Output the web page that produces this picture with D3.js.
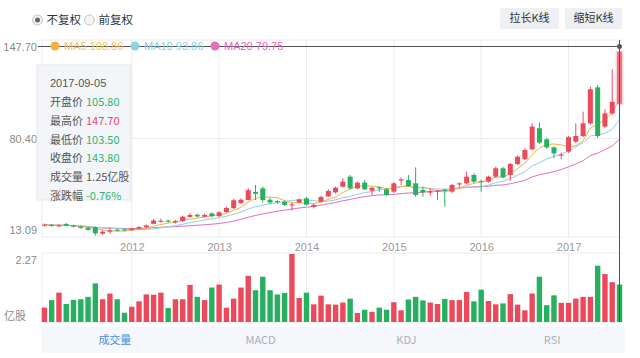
<!DOCTYPE html>
<html><head><meta charset="utf-8">
<script src="https://cdn.jsdelivr.net/npm/d3@7"></script>
<style>
body{margin:0;background:#fff;}
svg{display:block;font-family:"Noto Sans CJK SC","Liberation Sans",sans-serif;}
</style></head><body>
<svg id="c" width="640" height="358"></svg>
<script>
// ---------- data ----------
const categories = ("2011-01 2011-02 2011-03 2011-04 2011-05 2011-06 2011-07 2011-08 2011-09 2011-10 2011-11 2011-12 " +
 "2012-01 2012-02 2012-03 2012-04 2012-05 2012-06 2012-07 2012-08 2012-09 2012-10 2012-11 2012-12 " +
 "2013-01 2013-02 2013-03 2013-04 2013-05 2013-06 2013-07 2013-08 2013-09 2013-10 2013-11 2013-12 " +
 "2014-01 2014-02 2014-03 2014-04 2014-05 2014-06 2014-07 2014-08 2014-09 2014-10 2014-11 2014-12 " +
 "2015-01 2015-02 2015-03 2015-04 2015-05 2015-06 2015-07 2015-08 2015-09 2015-10 2015-11 2015-12 " +
 "2016-01 2016-02 2016-03 2016-04 2016-05 2016-06 2016-07 2016-08 2016-09 2016-10 2016-11 2016-12 " +
 "2017-01 2017-02 2017-03 2017-04 2017-05 2017-06 2017-07 2017-08").split(" ");

const openP = [16.6,17.3,16.2,17.8,16.8,16.0,15.2,15.6,10.8,12.2,13.6,13.8,
 13.4,14.4,15.5,18.0,19.4,20.4,19.0,19.9,23.0,24.6,23.2,25.6,
 23.6,26.6,29.4,33.2,35.4,41.3,43.9,35.6,34.6,34.0,31.8,33.6,
 36.6,30.4,34.2,38.0,41.0,45.1,52.5,43.9,48.1,42.2,44.6,43.2,
 41.5,49.6,50.0,47.6,42.7,40.8,41.8,43.0,41.5,46.8,47.6,53.7,
 49.2,48.8,52.5,58.6,53.7,61.7,65.2,72.5,87.9,79.8,73.9,67.8,
 70.8,78.1,82.2,91.5,117.8,89.1,98.8,105.8];
const highP = [18.2,17.9,17.6,18.6,17.3,16.5,15.7,16.0,13.3,15.2,14.6,14.5,
 15.2,16.3,17.4,21.4,21.8,21.0,20.8,24.0,25.8,25.4,25.5,26.3,
 27.2,30.4,36.2,36.6,44.0,46.4,45.2,36.8,35.6,35.0,33.5,36.6,
 37.6,32.8,38.6,43.2,45.2,51.3,53.7,48.8,50.0,45.1,45.6,44.0,
 48.5,52.0,53.7,59.3,45.1,44.0,42.8,43.6,47.2,48.3,56.1,54.9,
 50.5,53.2,59.8,59.6,62.5,68.0,73.2,91.5,92.0,80.8,74.6,70.0,
 82.2,91.5,100.0,118.3,119.5,101.7,131.0,147.7];
const lowP = [16.0,15.8,15.6,16.0,15.3,14.4,13.0,9.4,10.0,10.8,12.4,12.8,
 13.0,14.0,15.0,17.5,18.8,18.9,18.2,19.3,22.4,22.6,22.6,22.8,
 23.0,26.0,28.8,32.4,35.0,35.4,33.6,32.4,32.6,31.0,27.6,33.0,
 31.4,29.2,33.6,37.6,40.0,44.4,43.2,43.2,42.7,39.1,41.5,38.5,
 40.6,46.4,45.0,37.8,37.8,38.5,35.4,30.5,40.3,44.6,46.8,47.8,
 41.5,48.0,51.6,51.3,49.5,61.0,64.6,71.8,76.5,72.8,65.9,65.2,
 69.8,77.2,81.3,90.4,80.8,87.9,97.5,103.5];
const closeP = [17.4,16.5,16.9,16.6,15.9,15.0,13.6,11.0,12.2,13.2,13.2,13.4,
 14.4,15.6,16.8,20.4,20.2,19.6,20.0,23.2,24.4,23.4,24.4,23.6,
 26.4,29.6,35.2,35.6,42.6,40.0,35.4,33.6,33.8,31.8,32.2,35.8,
 32.0,31.8,37.6,42.0,44.4,48.8,43.9,48.1,43.2,44.4,44.0,39.1,
 47.6,50.5,45.6,39.1,41.0,41.8,42.2,42.2,46.4,47.6,52.5,48.8,
 48.6,52.5,58.6,52.0,61.7,67.1,72.0,89.1,77.4,73.9,69.5,68.6,
 81.3,82.2,91.5,116.4,82.2,98.8,107.3,143.8];
// volume, 亿股
const volume = [0.48,0.73,0.98,0.60,0.74,0.76,0.84,1.29,0.76,0.95,
 0.76,0.31,0.51,0.69,0.92,0.91,0.98,0.47,0.76,0.76,
 1.24,0.84,0.73,1.15,1.25,0.48,0.78,1.15,1.54,1.06,
 1.51,1.06,0.92,0.97,2.27,0.80,0.98,0.59,0.88,0.59,
 0.58,0.65,0.78,0.30,0.41,0.34,0.48,0.41,0.66,0.39,
 0.75,0.84,0.72,0.65,0.60,0.77,0.73,0.73,1.00,0.69,
 1.08,0.70,0.59,0.62,0.93,0.58,0.39,0.95,1.51,0.56,
 0.89,0.64,0.64,0.78,0.84,0.84,1.88,1.60,1.33,1.25];
const volumeUp = [1,0,1,0,0,0,0,0,1,1,0,0,
 1,1,1,1,1,0,1,1,1,0,1,0,1,1,1,1,1,0,0,0,0,0,1,1,0,1,1,1,
 1,1,0,1,0,1,0,0,1,1,0,0,0,1,1,0,1,1,1,0,
 0,1,1,0,1,1,1,1,0,0,0,1,1,1,1,1,0,1,1,0];

const priceTicks = [13.09, 80.40, 147.70];
const volumeMaxLabel = "2.27";
const volumeUnit = "亿股";
const yearTickCats = ["2012-01","2013-01","2014-01","2015-01","2016-01","2017-01"];
const yearTickLabels = ["2012","2013","2014","2015","2016","2017"];
const maPeriods = [5, 10, 20];
const maLegend = ["MA5 108.86", "MA10 93.86", "MA20 79.75"];
const tooltipDate = "2017-09-05";
const tooltipRows = [
  ["开盘价", "105.80", "down"],
  ["最高价", "147.70", "up"],
  ["最低价", "103.50", "down"],
  ["收盘价", "143.80", "down"],
  ["成交量", "1.25亿股", "plain"],
  ["涨跌幅", "-0.76%", "down"]
];
const tabs = ["成交量", "MACD", "KDJ", "RSI"];
const radios = ["不复权", "前复权"];
const buttons = ["拉长K线", "缩短K线"];

// ---------- styles ----------
const RED = "#ea4a5c", GREEN = "#26b060";
const maColors = ["#f4b23f", "#8fd2e6", "#e070c2"];
const maTextColors = ["#f5c255", "#86d1e6", "#ec63bf"];
const GRID = "#ececec";

const svg = d3.select("#c");
const left = 42, right = 622;
const x = d3.scalePoint().domain(categories).range([44.4, 619.5]);
const step = x.step();
const y = d3.scaleLinear().domain([13.09, 147.70]).range([230.5, 46.5]);
const yv = d3.scaleLinear().domain([0, 2.27]).range([322, 254]);
const data = categories.map((c, i) => ({c, o: openP[i], h: highP[i], l: lowP[i], cl: closeP[i], v: volume[i], vu: volumeUp[i]}));

// ---------- top controls ----------
radios.forEach((t, i) => {
  const cx = i === 0 ? 37.5 : 89.5;
  svg.append("circle").attr("cx", cx).attr("cy", 20).attr("r", 5)
    .attr("fill", "#f3f3f3").attr("stroke", "#c4c4c4");
  if (i === 0) svg.append("circle").attr("cx", cx).attr("cy", 20).attr("r", 2.5).attr("fill", "#666");
  svg.append("text").attr("x", cx + 9).attr("y", 20).attr("dy", "0.36em")
    .attr("font-size", 11.5).attr("fill", "#333").text(t);
});
buttons.forEach((t, i) => {
  const bx = i === 0 ? 500 : 565, bw = i === 0 ? 59 : 57;
  svg.append("rect").attr("x", bx).attr("y", 8).attr("width", bw).attr("height", 21)
    .attr("fill", "#eef0f4").attr("rx", 1);
  svg.append("text").attr("x", bx + bw / 2).attr("y", 18.5).attr("dy", "0.36em")
    .attr("text-anchor", "middle").attr("font-size", 11).attr("fill", "#333").text(t);
});

// ---------- grid ----------
const g = svg.append("g");
[[40, 237], [253, 322]].forEach(([t, b]) => {
  g.append("line").attr("x1", left).attr("x2", right).attr("y1", t).attr("y2", t).attr("stroke", GRID);
  g.append("line").attr("x1", left).attr("x2", right).attr("y1", b).attr("y2", b).attr("stroke", GRID);
  g.append("line").attr("x1", left).attr("x2", left).attr("y1", t).attr("y2", b).attr("stroke", GRID);
  g.selectAll(null).data(yearTickCats).join("line")
    .attr("x1", d => x(d)).attr("x2", d => x(d)).attr("y1", t).attr("y2", b).attr("stroke", GRID);
});
g.append("line").attr("x1", left).attr("x2", right).attr("y1", y(80.40)).attr("y2", y(80.40)).attr("stroke", GRID);

// ---------- axes ----------
const xAxis = svg.append("g").attr("transform", "translate(0,237)")
  .call(d3.axisBottom(x).tickValues(yearTickCats).tickSize(0).tickPadding(6)
    .tickFormat((d) => yearTickLabels[yearTickCats.indexOf(d)]));
xAxis.select(".domain").remove();
xAxis.selectAll("text").attr("font-size", 11).attr("fill", "#9a9a9a").attr("font-family", "Liberation Sans, sans-serif");

const yAxis = svg.append("g").attr("transform", "translate(38,0)")
  .call(d3.axisLeft(y).tickValues(priceTicks).tickSize(0).tickPadding(1).tickFormat(d3.format(".2f")));
yAxis.select(".domain").remove();
yAxis.selectAll("text").attr("font-size", 11).attr("fill", "#8a8a8a").attr("font-family", "Liberation Sans, sans-serif");
yAxis.selectAll(".tick").filter(d => d === 13.09).select("text").attr("y", -1);

svg.append("text").attr("x", 37).attr("y", 260).attr("dy", "0.36em").attr("text-anchor", "end")
  .attr("font-size", 11).attr("fill", "#8a8a8a").attr("font-family", "Liberation Sans, sans-serif").text(volumeMaxLabel);
svg.append("text").attr("x", 4).attr("y", 316).attr("dy", "0.36em")
  .attr("font-size", 11).attr("fill", "#8a8a8a").text(volumeUnit);

// ---------- MA lines ----------
function movingAvg(n) {
  return closeP.map((_, i) => {
    const s = Math.max(0, i - n + 1);
    const w = closeP.slice(s, i + 1);
    return d3.mean(w);
  });
}
maPeriods.slice().reverse().forEach((n) => {
  const idx = maPeriods.indexOf(n);
  const vals = movingAvg(n);
  svg.append("path").datum(vals)
    .attr("fill", "none").attr("stroke", maColors[idx]).attr("stroke-width", 1)
    .attr("d", d3.line().x((d, i) => x(categories[i])).y(d => y(d)));
});

// ---------- candles ----------
const bw = 5;
const candles = svg.append("g").selectAll("g").data(data).join("g");
candles.append("line")
  .attr("x1", d => x(d.c)).attr("x2", d => x(d.c))
  .attr("y1", d => y(d.h)).attr("y2", d => y(d.l))
  .attr("stroke", d => d.cl >= d.o ? RED : GREEN).attr("stroke-width", 1);
candles.append("rect")
  .attr("x", d => x(d.c) - bw / 2).attr("width", bw)
  .attr("y", d => y(Math.max(d.o, d.cl)))
  .attr("height", d => Math.max(1, Math.abs(y(d.o) - y(d.cl))))
  .attr("fill", d => d.cl >= d.o ? RED : GREEN);
// highlight on hovered (last) candle
const last = data[data.length - 1];
svg.append("rect").attr("x", x(last.c) - bw / 2 - 1.5).attr("width", bw + 3)
  .attr("y", y(Math.max(last.o, last.cl)) - 1).attr("height", Math.abs(y(last.o) - y(last.cl)) + 2)
  .attr("fill", "#f7a3b0").attr("opacity", 0.45);

// ---------- volume ----------
const vbw = 5.4;
svg.append("g").selectAll("rect").data(data).join("rect")
  .attr("x", d => x(d.c) - vbw / 2).attr("width", vbw)
  .attr("y", d => yv(d.v)).attr("height", d => 322 - yv(d.v))
  .attr("fill", d => d.vu ? RED : GREEN);

// ---------- crosshair ----------
const cx = x(last.c), cy = y(last.h);
svg.append("line").attr("x1", 38).attr("x2", cx).attr("y1", cy).attr("y2", cy).attr("stroke", "#555").attr("stroke-width", 1);
svg.append("line").attr("x1", cx).attr("x2", cx).attr("y1", 40).attr("y2", 322).attr("stroke", "#555").attr("stroke-width", 1);
svg.append("circle").attr("cx", cx).attr("cy", cy).attr("r", 2.5).attr("fill", "#555");

// ---------- legend ----------
const legX = [55, 135, 215];
maLegend.forEach((t, i) => {
  svg.append("circle").attr("cx", legX[i]).attr("cy", 46).attr("r", 4.5).attr("fill", maColors[i]);
  svg.append("text").attr("x", legX[i] + 9).attr("y", 46).attr("dy", "0.36em")
    .attr("font-size", 11).attr("fill", maTextColors[i]).attr("font-family", "Liberation Sans, sans-serif").text(t);
});

// ---------- tooltip ----------
const tip = svg.append("g");
tip.append("rect").attr("x", 37).attr("y", 65).attr("width", 94).attr("height", 135)
  .attr("fill", "#f3f5f8").attr("stroke", "#e5e8ed").attr("opacity", 0.97);
tip.append("text").attr("x", 50).attr("y", 83).attr("dy", "0.36em").attr("font-size", 11)
  .attr("fill", "#555").attr("font-family", "Liberation Sans, sans-serif").text(tooltipDate);
const valColor = {up: "#e8467c", down: "#2fb56e", plain: "#555"};
tooltipRows.forEach((r, i) => {
  const ty = 102 + i * 18.8;
  tip.append("text").attr("x", 50).attr("y", ty).attr("dy", "0.36em").attr("font-size", 11)
    .attr("fill", "#555").text(r[0]);
  tip.append("text").attr("x", 86).attr("y", ty).attr("dy", "0.36em").attr("font-size", 11)
    .attr("fill", valColor[r[2]]).text(r[1]);
});

// ---------- tabs ----------
svg.append("rect").attr("x", 42).attr("y", 327).attr("width", 583).attr("height", 26).attr("fill", "#f5f7fa");
const tabW = 583 / tabs.length;
tabs.forEach((t, i) => {
  svg.append("text").attr("x", 42 + tabW * (i + 0.5)).attr("y", 340).attr("dy", "0.36em")
    .attr("text-anchor", "middle").attr("font-size", 11)
    .attr("fill", i === 0 ? "#4a8fe0" : "#aab0b8").text(t);
});
</script>
</body></html>
